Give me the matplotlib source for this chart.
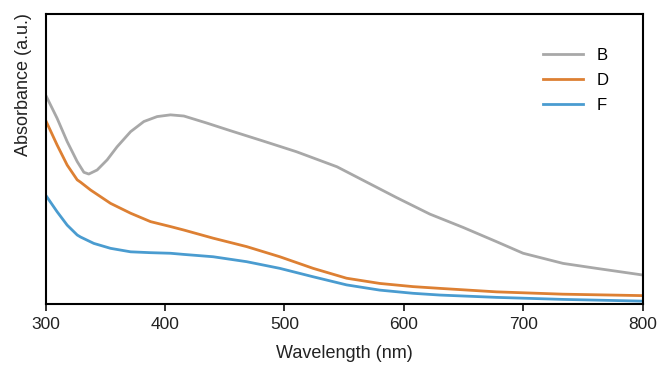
import matplotlib
matplotlib.use("Agg")
import matplotlib.pyplot as plt

plt.rcParams['font.family'] = ['Liberation Sans', 'DejaVu Sans']

# wavelength (nm) and absorbance (a.u., fraction of axis height)
wl_b = [300, 309.7, 318.1, 326.5, 332.1, 336.2, 343.2, 351.6, 359.9, 371.2, 382.3, 393.4,
        404.6, 415.8, 434.8, 454.3, 482, 510, 544, 565.6, 593.8, 621.7, 649.6, 677.5,
        699.8, 733.3, 761.2, 800]
abs_b = [0.721, 0.640, 0.560, 0.491, 0.454, 0.448, 0.462, 0.497, 0.542, 0.594, 0.629, 0.646,
         0.652, 0.648, 0.624, 0.598, 0.562, 0.525, 0.473, 0.427, 0.367, 0.310, 0.264, 0.215,
         0.175, 0.140, 0.123, 0.100]

wl_d = [300, 309.7, 318.1, 326.5, 329.3, 337.7, 354.4, 371.2, 387.9, 404.6, 415.8, 440.3,
        468.3, 496.1, 524, 552, 579.8, 607.7, 630.1, 677.5, 733, 800]
abs_d = [0.634, 0.548, 0.479, 0.428, 0.420, 0.393, 0.347, 0.313, 0.284, 0.267, 0.255, 0.227,
         0.198, 0.163, 0.123, 0.089, 0.071, 0.060, 0.054, 0.042, 0.034, 0.029]

wl_f = [300, 309.7, 318.1, 326.5, 329.3, 340.4, 354.4, 371.2, 387.9, 404.6, 415.8, 440.3,
        468.3, 496.1, 524, 552, 579.8, 607.7, 630.1, 677.5, 733, 800]
abs_f = [0.376, 0.318, 0.272, 0.238, 0.231, 0.209, 0.192, 0.180, 0.177, 0.175, 0.171, 0.163,
         0.146, 0.123, 0.094, 0.066, 0.048, 0.037, 0.031, 0.023, 0.016, 0.010]

labels = ['B', 'D', 'F']
colors = ['#a8a8a8', '#dd8033', '#4a9cd0']
xticks = [300, 400, 500, 600, 700, 800]

fig = plt.figure(figsize=(6.6, 3.65), dpi=100)
ax = fig.add_axes([0.069, 0.167, 0.905, 0.795])

ax.plot(wl_b, abs_b, color=colors[0], lw=2, label=labels[0])
ax.plot(wl_d, abs_d, color=colors[1], lw=2, label=labels[1])
ax.plot(wl_f, abs_f, color=colors[2], lw=2, label=labels[2])

ax.set_xlim(300, 800)
ax.set_ylim(0, 1)
ax.set_xticks(xticks)
ax.set_yticks([])
ax.tick_params(axis='x', direction='out', length=5, width=1.3, labelsize=12.5,
               colors='#222222', pad=4)
for s in ax.spines.values():
    s.set_linewidth(1.5)

ax.set_xlabel('Wavelength (nm)', fontsize=13, color='#222222', labelpad=10)
ax.set_ylabel('Absorbance (a.u.)', fontsize=13, color='#222222')
ax.yaxis.set_label_coords(-0.023, 0.755)

ax.legend(loc='upper left', bbox_to_anchor=(0.822, 0.905), frameon=False, fontsize=12,
          handlelength=2.4, labelspacing=0.6, borderaxespad=0, handletextpad=0.8)

fig.savefig('out.png', dpi=100)
